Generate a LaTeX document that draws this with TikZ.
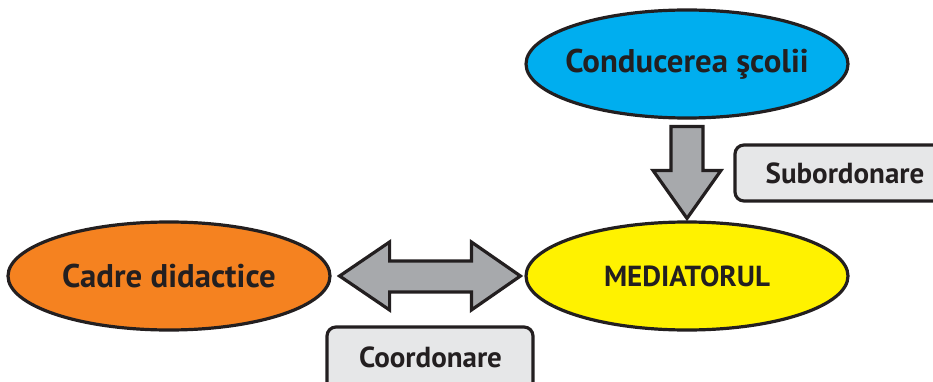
\documentclass[tikz,border=0pt]{standalone}
\usepackage{fontspec}
\setmainfont{PT Sans}
\usetikzlibrary{shapes.geometric,calc}
\definecolor{ink}{HTML}{231F20}
\definecolor{cyanF}{HTML}{00AEEF}
\definecolor{yellowF}{HTML}{FFF200}
\definecolor{orangeF}{HTML}{F58220}
\definecolor{grayA}{HTML}{A7A9AC}
\definecolor{boxF}{HTML}{E6E7E8}
\begin{document}
\begin{tikzpicture}[x=1pt,y=-1pt,
  oval/.style={ellipse,draw=ink,line width=3.2pt,minimum width=322pt,minimum height=108pt,inner xsep=-60pt,inner ysep=0pt,font=\fontsize{32.8}{36}\selectfont\bfseries,text=ink},
  tag/.style={draw=ink,fill=boxF,line width=3.2pt,rounded corners=9pt,inner sep=0pt},
  tagtext/.style={font=\fontsize{29}{32}\selectfont\bfseries,text=ink},
  blockarrow/.style={draw=ink,fill=grayA,line width=3.2pt,line join=miter}]
\useasboundingbox (0,0) rectangle (933,382);
\clip (0,0) rectangle (933,382);
\node[oval,fill=cyanF] (top) at (687,64) {Conducerea şcolii};
\node[oval,fill=yellowF,font=\fontsize{29}{32}\selectfont\bfseries] (mid) at (687,276) {MEDIATORUL};
\node[oval,fill=orangeF] (cad) at (169,276) {Cadre didactice};
% down arrow
\coordinate (d1) at ($(top.south)+(0,7)$);
\coordinate (d2) at ($(mid.north)+(0,-2)$);
\draw[blockarrow] ($(d1)+(-16,0)$) -- ($(d1)+(16,0)$) -- ($(d2)+(16,-48)$) -- ($(d2)+(34,-48)$) -- (d2) -- ($(d2)+(-34,-48)$) -- ($(d2)+(-16,-48)$) -- cycle;
% double arrow
\coordinate (h1) at ($(cad.east)+(8,0)$);
\coordinate (h2) at ($(mid.west)+(-4,0)$);
\draw[blockarrow] (h1) -- ($(h1)+(50,-34)$) -- ($(h1)+(50,-15)$) -- ($(h2)+(-49,-15)$) -- ($(h2)+(-49,-34)$) -- (h2) -- ($(h2)+(-49,34)$) -- ($(h2)+(-49,16)$) -- ($(h1)+(50,16)$) -- ($(h1)+(50,34)$) -- cycle;
% tags
\node[tag,minimum width=221pt,minimum height=56pt] (sub) at (845.5,173) {};
\node[tagtext] (subt) at (845,173) {Subordonare};
\node[tag,minimum width=206pt,minimum height=64pt] (coo) at (430,359) {};
\node[tagtext] (coot) at (430.5,357) {Coordonare};
\end{tikzpicture}
\end{document}
